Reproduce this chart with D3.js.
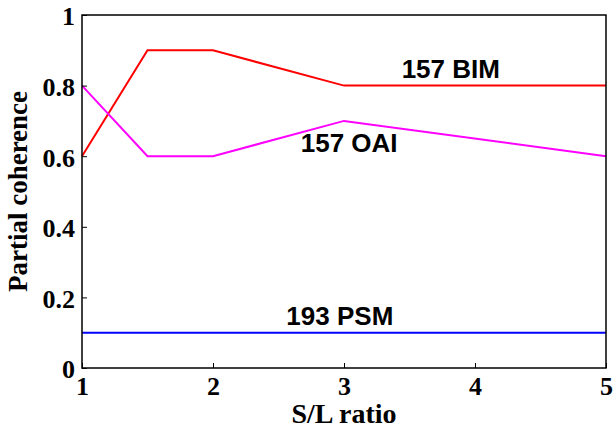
<!DOCTYPE html>
<html>
<head>
<meta charset="utf-8">
<script src="https://cdn.jsdelivr.net/npm/d3@7"></script>
<style>
  html, body { margin: 0; padding: 0; background: #fff; }
  svg { display: block; }
</style>
</head>
<body>
<svg id="chart" width="613" height="433"></svg>
<script>
// Data
const xValues = [1, 1.5, 2, 3, 5];
const bim157 = [0.6, 0.9, 0.9, 0.8, 0.8];
const oai157 = [0.8, 0.6, 0.6, 0.7, 0.6];
const psm193 = [0.1, 0.1, 0.1, 0.1, 0.1];
const xTicks = [1, 2, 3, 4, 5];
const yTicks = [0, 0.2, 0.4, 0.6, 0.8, 1];
const seriesNames = ["157 BIM", "157 OAI", "193 PSM"];
const labelAnchors = [[3.44, 0.8], [2.67, 0.6], [2.56, 0.1]];

const svg = d3.select("#chart");
const margin = { left: 82, top: 15, right: 7, bottom: 65 };
const W = 613, H = 433;
const x = d3.scaleLinear().domain([1, 5]).range([margin.left, W - margin.right]);
const y = d3.scaleLinear().domain([0, 1]).range([H - margin.bottom, margin.top]);

const serif = "'Liberation Serif', 'Times New Roman', serif";
const sans = "'Liberation Sans', Arial, sans-serif";

// Lines
const line = d3.line().x((d, i) => x(xValues[i])).y(d => y(d));
const series = [
  { vals: bim157, color: "#ff0000" },
  { vals: oai157, color: "#ff00ff" },
  { vals: psm193, color: "#0000ff" }
];
series.forEach(s => {
  svg.append("path").datum(s.vals)
    .attr("d", line)
    .attr("fill", "none")
    .attr("stroke", s.color)
    .attr("stroke-width", 2);
});

// Box
svg.append("rect")
  .attr("x", x(1)).attr("y", y(1))
  .attr("width", x(5) - x(1)).attr("height", y(0) - y(1))
  .attr("fill", "none").attr("stroke", "#000").attr("stroke-width", 1.5);

// Axes (inward ticks)
const xAxis = d3.axisBottom(x).tickValues(xTicks).tickSize(-5).tickFormat(d3.format("d")).tickPadding(9);
const gx = svg.append("g").attr("transform", `translate(0,${y(0)})`).call(xAxis);
gx.select(".domain").remove();
gx.selectAll("text").attr("font-family", serif).attr("font-weight", "bold").attr("font-size", 26).attr("fill", "#000");

const yAxis = d3.axisLeft(y).tickValues(yTicks).tickSize(-5).tickPadding(7)
  .tickFormat(d => d === 0 ? "0" : d === 1 ? "1" : d3.format(".1f")(d));
const gy = svg.append("g").attr("transform", `translate(${x(1)},0)`).call(yAxis);
gy.select(".domain").remove();
gy.selectAll("text").attr("font-family", serif).attr("font-weight", "bold").attr("font-size", 26).attr("fill", "#000").attr("dy", "0.38em");

// Axis labels
svg.append("text")
  .attr("x", (x(1) + x(5)) / 2).attr("y", 423)
  .attr("text-anchor", "middle")
  .attr("font-family", serif).attr("font-weight", "bold").attr("font-size", 28)
  .text("S/L ratio");
svg.append("text")
  .attr("transform", `translate(27,${(y(0) + y(1)) / 2}) rotate(-90)`)
  .attr("text-anchor", "middle")
  .attr("font-family", serif).attr("font-weight", "bold").attr("font-size", 27)
  .text("Partial coherence");

// Series annotations
const labelOffsets = [-8, -4, -8];
seriesNames.forEach((n, i) => {
  svg.append("text")
    .attr("x", x(labelAnchors[i][0]))
    .attr("y", y(labelAnchors[i][1]) + labelOffsets[i])
    .attr("font-family", sans).attr("font-weight", "bold").attr("font-size", 26)
    .attr("fill", "#000")
    .text(n);
});
</script>
</body>
</html>
